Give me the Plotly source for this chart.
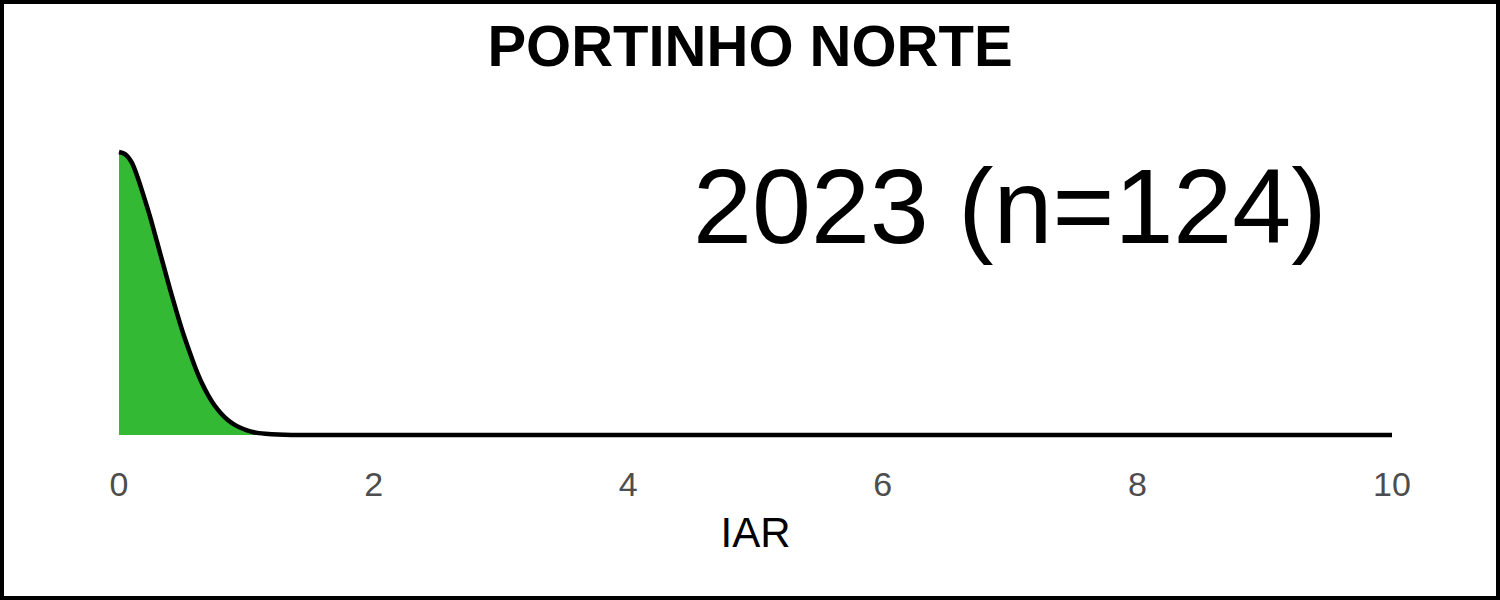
import plotly.graph_objects as go

# Data
title_text = "PORTINHO NORTE"
label_text = "2023 (n=124)"
x_title = "IAR"
tick_vals = [0, 2, 4, 6, 8, 10]
tick_text = ["0", "2", "4", "6", "8", "10"]

iar = [0, 0.05, 0.1, 0.15, 0.2, 0.25, 0.3, 0.35, 0.4, 0.45, 0.5, 0.55, 0.6,
       0.65, 0.7, 0.75, 0.8, 0.85, 0.9, 0.95, 1.0, 1.05, 1.1, 1.15, 1.2,
       1.3, 1.4, 1.6, 2.0, 3.0, 4.0, 5.0, 6.0, 7.0, 8.0, 9.0, 10.0]
density = [1.22, 1.21, 1.175, 1.105, 1.02, 0.93, 0.83, 0.73, 0.63, 0.535,
           0.445, 0.365, 0.29, 0.225, 0.172, 0.128, 0.094, 0.067, 0.047,
           0.032, 0.021, 0.013, 0.008, 0.005, 0.003, 0.001, 0.0003, 0,
           0, 0, 0, 0, 0, 0, 0, 0, 0]

W, H = 1500, 600
px_x0, px_x1 = 119, 1392          # pixel positions of x=0 and x=10
px_ybase, px_ytop = 435, 100      # baseline and top of plotting band
peak_px = 152
pad = 12                          # extra room so the line is not clipped
ppu_x = (px_x1 - px_x0) / 10.0
peak = max(density)
ppu_y = (px_ybase - peak_px) / peak
x_range = [-pad / ppu_x, 10 + pad / ppu_x]
y_range = [-pad / ppu_y, (px_ybase - px_ytop) / ppu_y]

fig = go.Figure()
fig.add_trace(go.Scatter(
    x=iar, y=density, mode="lines", fill="tozeroy",
    fillcolor="#33B933", line=dict(color="black", width=4.5, shape="spline", smoothing=0.8),
    hoverinfo="skip", showlegend=False,
))

fig.add_annotation(
    x=7, xref="x", y=(H - 206) / H, yref="paper", text=label_text,
    showarrow=False, font=dict(family="Liberation Sans, Arial", size=106, color="black"),
    xanchor="center", yanchor="middle",
)

fig.add_shape(type="rect", xref="paper", yref="paper",
              x0=2 / W, x1=1 - 2 / W, y0=2 / H, y1=1 - 2 / H,
              line=dict(color="black", width=4), fillcolor="rgba(0,0,0,0)", layer="above")

fig.update_layout(
    width=W, height=H, margin=dict(l=0, r=0, t=0, b=0),
    paper_bgcolor="white", plot_bgcolor="white",
    font=dict(family="Liberation Sans, Arial"),
    title=dict(text=f"<b>{title_text}</b>", x=0.5, xref="container", xanchor="center",
               y=1 - 46 / H, yref="container", yanchor="middle",
               font=dict(family="Liberation Sans, Arial", size=58, color="black")),
    xaxis=dict(domain=[(px_x0 - pad) / W, (px_x1 + pad) / W], range=x_range,
               showgrid=False, zeroline=False,
               showline=False, ticks="", tickvals=tick_vals, ticktext=tick_text,
               tickfont=dict(size=34, color="#4d4d4d"), ticklabelstandoff=14,
               title=dict(text=x_title, font=dict(size=42, color="black"), standoff=15),
               automargin=False),
    yaxis=dict(domain=[(H - px_ybase - pad) / H, (H - px_ytop) / H], range=y_range,
               visible=False, automargin=False),
)

fig.write_html("out.html")
